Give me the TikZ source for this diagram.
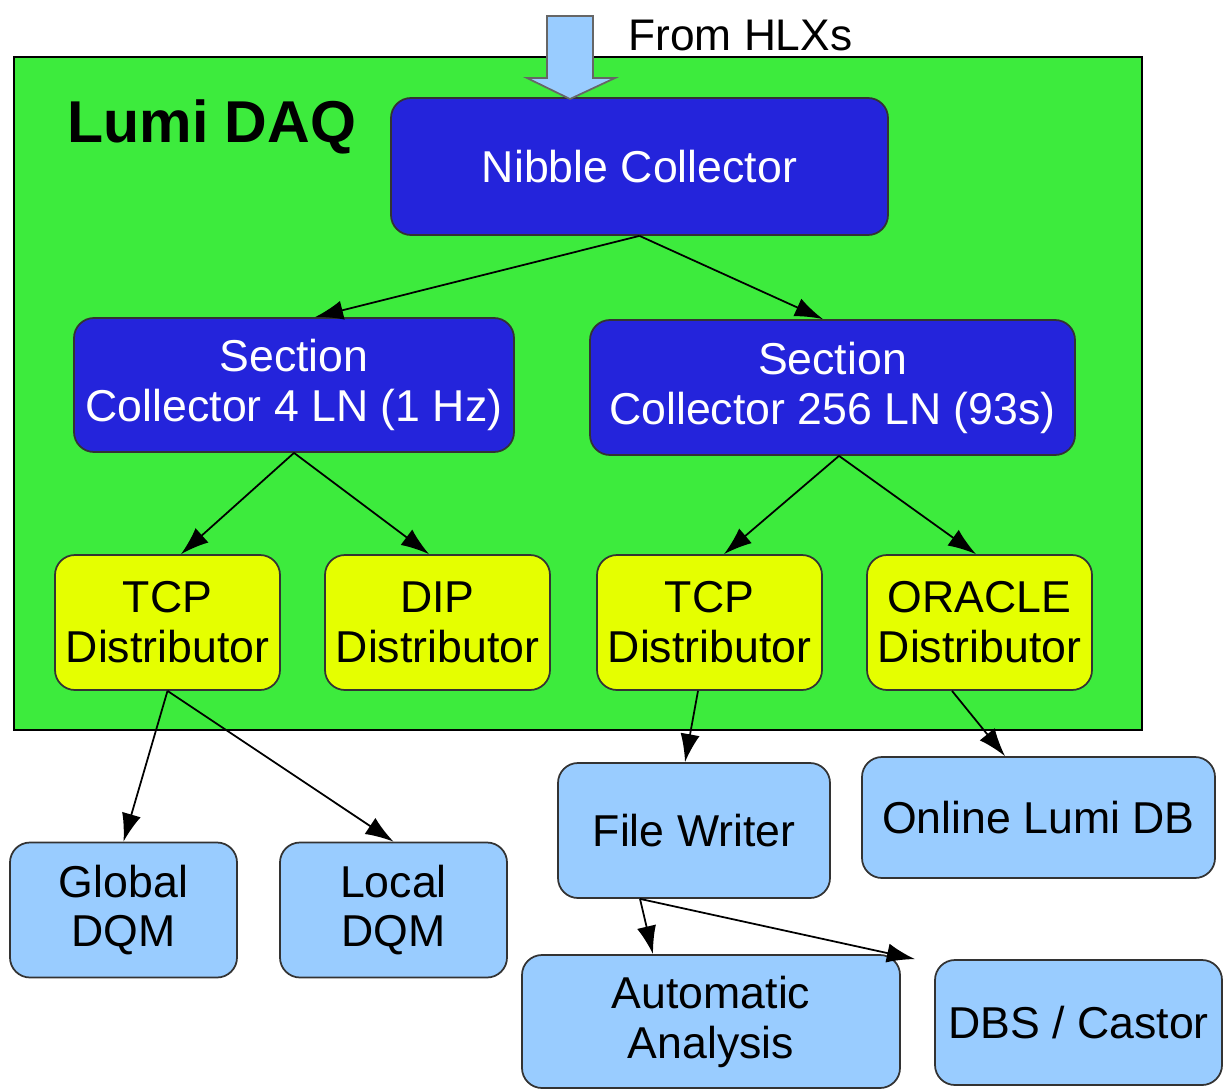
\documentclass[tikz,border=0pt]{standalone}
\usepackage{fontspec}
\setmainfont{Liberation Sans}
\usetikzlibrary{arrows.meta}
\definecolor{daqgreen}{HTML}{3DEB3D}
\definecolor{collblue}{HTML}{2424DB}
\definecolor{distyellow}{HTML}{E5FF00}
\definecolor{outblue}{HTML}{99CCFF}
\begin{document}
\begin{tikzpicture}[>={Latex[length=8pt,width=5.5pt]},
  box/.style={draw=black!80, line width=0.5pt, rounded corners=0.2cm, inner sep=0pt, align=center,
    font=\fontsize{12.7}{14.2}\selectfont, minimum height=1.35cm},
  collbox/.style={box, fill=collblue, text=white},
  distbox/.style={box, fill=distyellow, minimum width=2.25cm},
  outbox/.style={box, fill=outblue},
  flow/.style={->, line width=0.5pt}]
\useasboundingbox (0,0) rectangle (12.27,-10.91);
\draw[fill=daqgreen, line width=0.8pt] (0.14,-0.57) rectangle (11.42,-7.30);
\node[anchor=west, font=\fontsize{16.8}{18}\selectfont\bfseries] (title) at (0.55,-1.27) {Lumi DAQ};
\node[anchor=west, font=\fontsize{12.6}{14}\selectfont] (src) at (6.16,-0.35) {From HLXs};
% boxes inside the DAQ
\node[collbox, minimum width=4.97cm, minimum height=1.37cm] (nib) at (6.395,-1.665) {Nibble Collector};
\node[collbox, minimum width=4.40cm, minimum height=1.34cm] (sec1) at (2.94,-3.85) {Section\\Collector 4 LN (1 Hz)};
\node[collbox, minimum width=4.85cm] (sec2) at (8.325,-3.875) {Section\\Collector 256 LN (93s)};
\node[distbox] (tcp1) at (1.675,-6.225) {TCP\\Distributor};
\node[distbox] (dip) at (4.375,-6.225) {DIP\\Distributor};
\node[distbox] (tcp2) at (7.095,-6.225) {TCP\\Distributor};
\node[distbox] (ora) at (9.795,-6.225) {ORACLE\\Distributor};
% boxes outside
\node[outbox, minimum width=2.27cm] (gdqm) at (1.235,-9.10) {Global\\DQM};
\node[outbox, minimum width=2.27cm] (ldqm) at (3.935,-9.10) {Local\\DQM};
\node[outbox, minimum width=2.72cm] (fw) at (6.94,-8.305) {File Writer};
\node[outbox, minimum width=3.53cm, minimum height=1.21cm] (odb) at (10.385,-8.175) {Online Lumi DB};
\node[outbox, minimum width=3.78cm, minimum height=1.33cm] (auto) at (7.11,-10.215) {Automatic\\Analysis};
\node[outbox, minimum width=2.87cm, minimum height=1.25cm] (dbs) at (10.785,-10.225) {DBS / Castor};
% input arrow
\coordinate (in) at (5.70,-0.99);
\draw[fill=outblue, draw=black!60, line width=0.5pt] (5.47,-0.16) -- (5.93,-0.16) -- (5.93,-0.78) -- (6.15,-0.78)
  -- (in) -- (5.27,-0.78) -- (5.47,-0.78) -- cycle;
% connectors
\draw[flow] (nib.south) -- ([xshift=0.21cm]sec1.north);
\draw[flow] (nib.south) -- ([xshift=-0.095cm]sec2.north);
\draw[flow] (sec1.south) -- ([xshift=0.135cm]tcp1.north);
\draw[flow] (sec1.south) -- ([xshift=-0.085cm]dip.north);
\draw[flow] ([xshift=0.065cm]sec2.south) -- ([xshift=0.145cm]tcp2.north);
\draw[flow] ([xshift=0.065cm]sec2.south) -- ([xshift=-0.035cm]ora.north);
\draw[flow] (tcp1.south) -- (gdqm.north);
\draw[flow] (tcp1.south) -- (ldqm.north);
\draw[flow] ([xshift=-0.115cm]tcp2.south) -- ([xshift=-0.09cm]fw.north);
\draw[flow] ([xshift=-0.275cm]ora.south) -- ([xshift=-0.335cm]odb.north);
\draw[flow] ([xshift=-0.54cm]fw.south) -- ([xshift=-0.58cm]auto.north);
\draw[flow] ([xshift=-0.54cm]fw.south) -- ([xshift=-1.635cm]dbs.north);
\end{tikzpicture}
\end{document}
